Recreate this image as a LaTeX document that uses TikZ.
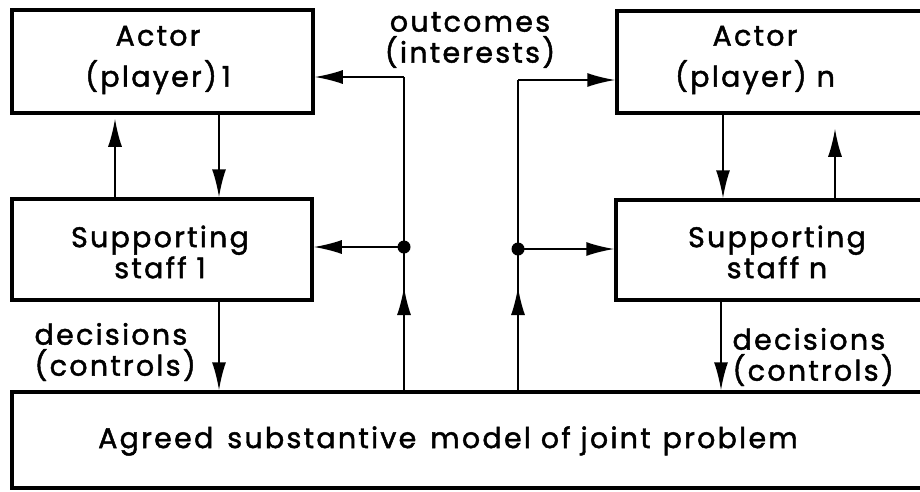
\documentclass[tikz,border=0pt]{standalone}
\usepackage{fontspec}
\usetikzlibrary{arrows.meta,calc}
\newfontfamily\lf[LetterSpace=8,FakeBold=1.6]{Poppins}
\begin{document}
\begin{tikzpicture}[x=1pt,y=-1pt,
  box/.style={draw, line width=3.5pt, rectangle, inner sep=0pt},
  lbl/.style={align=center, font=\lf\fontsize{28.5}{31}\selectfont},
  conn/.style={line width=1.8pt},
  arr/.style={conn, -{Latex[length=28pt,width=14pt]}},
  dot/.style={circle, fill, inner sep=0pt, minimum size=13pt}]
\useasboundingbox (0,0) rectangle (920,491);
\clip (0,0) rectangle (920,491);
% boxes
\node[box, minimum width=301pt, minimum height=103pt] (a1) at (162.5,61.5) {};
\node[box, minimum width=300pt, minimum height=101pt] (s1) at (162,249.5) {};
\node[box, minimum width=318pt, minimum height=102pt] (an) at (776,62) {};
\node[box, minimum width=319pt, minimum height=100pt] (sn) at (775.5,250) {};
\node[box, minimum width=933pt, minimum height=96pt] (m) at (478.5,440) {};
% texts
\node[lbl, font=\lf\fontsize{28.5}{41}\selectfont] (ta1) at (158,60) {Actor\\(player)\,1};
\node[lbl] (ts1) at (160,252) {Supporting\\staff 1};
\node[lbl, font=\lf\fontsize{28.5}{41}\selectfont] (tan) at (755,60) {Actor\\(player) n};
\node[lbl] (tsn) at (777,252) {Supporting\\staff n};
\node[lbl] (tm) at (448,441) {Agreed\hspace{14pt}substantive\hspace{14pt}model of joint\hspace{12pt}problem};
\node[lbl] (tout) at (470,40) {outcomes\\(interests)};
\node[lbl, align=left, anchor=west] (tdl) at (31,352) {decisions\\(controls)};
\node[lbl, align=left, anchor=west] (tdr) at (729,357) {decisions\\(controls)};
% helper coordinates
\coordinate (xa) at (219,0);
\coordinate (xb) at (115,0);
\coordinate (xc) at (723,0);
\coordinate (xd) at (835,0);
\coordinate (xe) at (721,0);
\coordinate (jl) at (404,247);
\coordinate (tl) at (404,77);
\coordinate (jr) at (518,249);
\coordinate (tr) at (518,80);
% actor <-> staff
\draw[arr] (a1.south -| xa) -- (s1.north -| xa);
\draw[arr, shorten >=4pt] (s1.north -| xb) -- (a1.south -| xb);
\draw[arr] (an.south -| xc) -- (sn.north -| xc);
\draw[arr, shorten >=14pt] (sn.north -| xd) -- (an.south -| xd);
% decisions
\draw[arr] (s1.south -| xa) -- (m.north -| xa);
\draw[arr] (sn.south -| xe) -- (m.north -| xe);
% outcomes left
\draw[conn] (m.north -| jl) -- (tl);
\draw[arr] (m.north -| jl) -- ([yshift=-40pt]jl);
\draw[arr] (tl) -- (a1.east |- tl);
\draw[arr] (jl) -- (s1.east |- jl);
\node[dot] at (jl) {};
% outcomes right
\draw[conn] (m.north -| jr) -- (tr);
\draw[arr] (m.north -| jr) -- ([yshift=-38pt]jr);
\draw[arr] (tr) -- (an.west |- tr);
\draw[arr] (jr) -- (sn.west |- jr);
\node[dot] at (jr) {};
\end{tikzpicture}
\end{document}
